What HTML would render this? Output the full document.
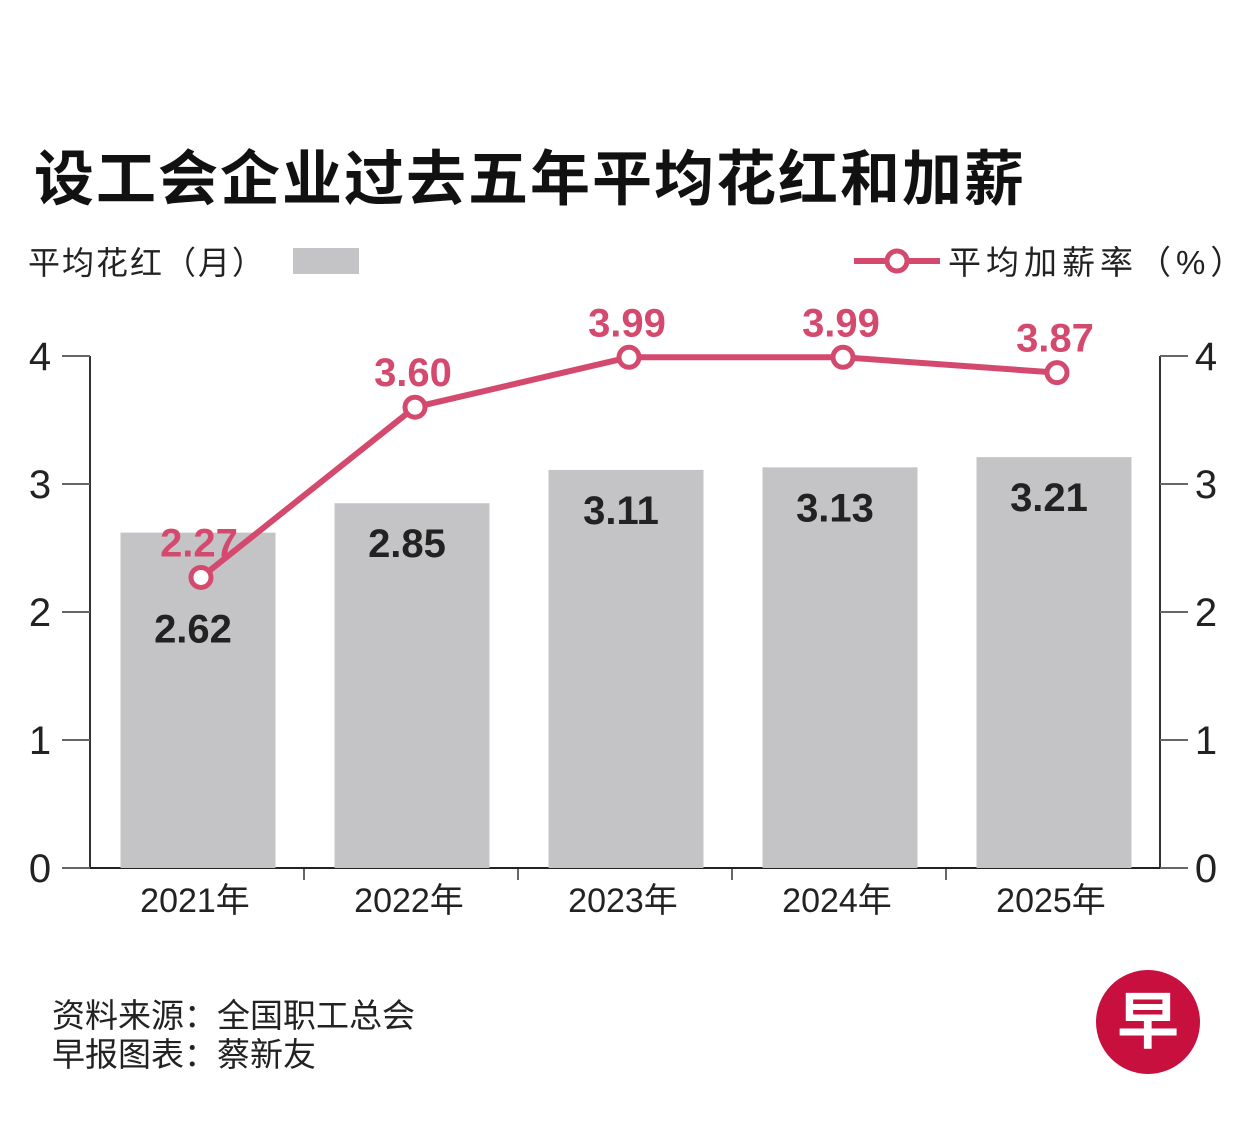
<!DOCTYPE html>
<html><head><meta charset="utf-8"><style>
body{margin:0;background:#fff;}
svg text{font-family:"Liberation Sans","Noto Sans CJK SC",sans-serif;}
</style></head><body>
<svg width="1251" height="1127" viewBox="0 0 1251 1127">
<text x="34" y="200" font-size="60" letter-spacing="2" font-weight="bold" fill="#111">设工会企业过去五年平均花红和加薪</text>
<text x="28" y="274" font-size="32" letter-spacing="2" fill="#222">平均花红（月）</text>
<rect x="293" y="248" width="66" height="26" fill="#c4c4c6"/>
<g>
<line x1="854" y1="261" x2="940" y2="261" stroke="#d44a6e" stroke-width="6"/>
<circle cx="897" cy="261" r="10" fill="#fff" stroke="#d44a6e" stroke-width="5"/>
</g>
<text x="948" y="274" font-size="33" letter-spacing="5" fill="#222">平均加薪率（%）</text>
<g id="axes"></g>
<g id="bars"></g>
<g id="line"></g>
<text x="52" y="1027" font-size="33" fill="#222">资料来源：全国职工总会</text>
<text x="52" y="1066" font-size="33" fill="#222">早报图表：蔡新友</text>
<g>
<circle cx="1148" cy="1022" r="52" fill="#c8103f"/>
<text x="1148" y="1043" font-size="62" font-weight="bold" fill="#fff" text-anchor="middle" font-family="Noto Serif CJK SC, serif">早</text>
</g>
</svg>
<script>
const categories=["2021年","2022年","2023年","2024年","2025年"];
const bonus=[2.62,2.85,3.11,3.13,3.21];
const raise=[2.27,3.60,3.99,3.99,3.87];
const ticks=[0,1,2,3,4];
const NS="http://www.w3.org/2000/svg";
const X0=90,X1=1160,Y0=868,PX=128;
const step=(X1-X0)/categories.length;
const y=v=>Y0-v*PX;
const xc=i=>X0+step*(i+0.5);
function mk(tag,attrs,parent,txt){const e=document.createElementNS(NS,tag);for(const k in attrs)e.setAttribute(k,attrs[k]);if(txt!==undefined)e.textContent=txt;parent.appendChild(e);return e;}
const ax=document.getElementById('axes'),bg=document.getElementById('bars'),lg=document.getElementById('line');
let e;
e=mk('line',{x1:X0,y1:y(4),x2:X0,y2:Y0,stroke:'#333','stroke-width':2},ax);


e=mk('line',{x1:X1,y1:y(4),x2:X1,y2:Y0,stroke:'#333','stroke-width':2},ax);


ticks.forEach(t=>{
 e=mk('line',{x1:X0-28,y1:y(t),x2:X0,y2:y(t),stroke:'#666','stroke-width':2},ax);
 
 
 e=mk('text',{x:40,y:y(t)+14,'font-size':40,fill:'#222','text-anchor':'middle'},ax,t);
 
 
 e=mk('line',{x1:X1,y1:y(t),x2:X1+28,y2:y(t),stroke:'#666','stroke-width':2},ax);
 
 
 e=mk('text',{x:1206,y:y(t)+14,'font-size':40,fill:'#222','text-anchor':'middle'},ax,t);
 
 
});
categories.forEach((c,i)=>{
 const w=155;
 e=mk('rect',{x:xc(i)-w/2+1,y:y(bonus[i]),width:w,height:bonus[i]*PX,fill:'#c4c4c6'},bg);
 
 
 const off=(Math.abs(raise[i]-bonus[i])<0.6&&raise[i]<bonus[i])?108:52;
 e=mk('text',{x:xc(i)-4,y:y(bonus[i])+off+2,'font-size':40,'font-weight':'bold',fill:'#222','text-anchor':'middle'},bg,bonus[i].toFixed(2));
 
 
 e=mk('text',{x:xc(i)-2,y:912,'font-size':34,fill:'#222','text-anchor':'middle'},ax,c);
 
 
 if(i>0){
  e=mk('line',{x1:X0+step*i,y1:Y0,x2:X0+step*i,y2:Y0+12,stroke:'#666','stroke-width':2},ax);
  
  
 }
});
e=mk('line',{x1:X0,y1:Y0,x2:X1,y2:Y0,stroke:'#222','stroke-width':2},ax);


const pts=raise.map((v,i)=>(xc(i)+4)+','+y(v)).join(' ');
e=mk('polyline',{points:pts,fill:'none',stroke:'#d44a6e','stroke-width':6},lg);


raise.forEach((v,i)=>{
 e=mk('circle',{cx:xc(i)+4,cy:y(v),r:10,fill:'#fff',stroke:'#d44a6e','stroke-width':5},lg);
 
 
 e=mk('text',{x:xc(i)+2,y:y(v)-21,'font-size':40,'font-weight':'bold',fill:'#d44a6e','text-anchor':'middle'},lg,v.toFixed(2));
 
 
});
</script>
</body></html>
